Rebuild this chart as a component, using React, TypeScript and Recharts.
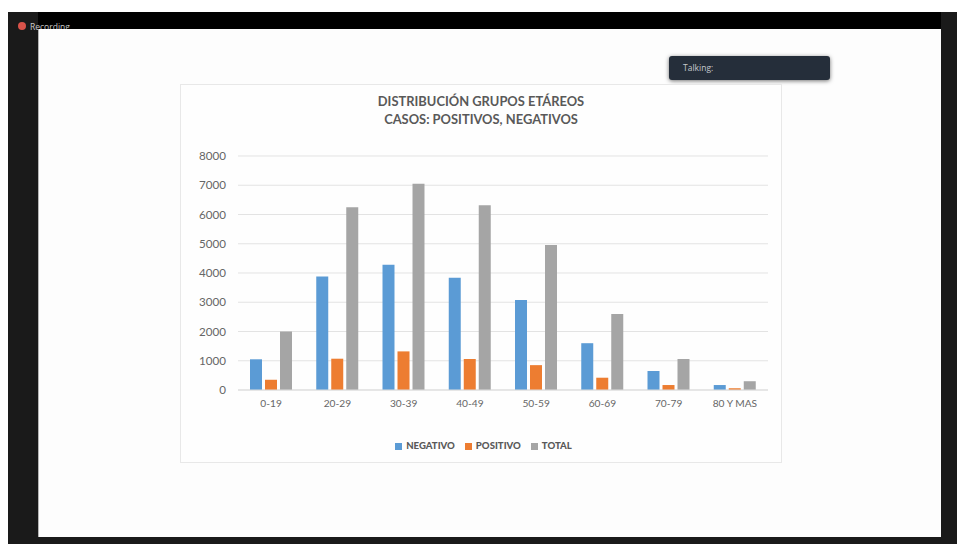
import { Bar, BarChart, CartesianGrid, Legend, XAxis, YAxis } from "recharts";

const categories = ["0-19", "20-29", "30-39", "40-49", "50-59", "60-69", "70-79", "80 Y MAS"];
const negativo = [1050, 3880, 4280, 3840, 3080, 1600, 650, 170];
const positivo = [350, 1070, 1320, 1060, 850, 420, 170, 60];
const total = [2000, 6250, 7050, 6320, 4960, 2600, 1060, 300];
const yTicks = [0, 1000, 2000, 3000, 4000, 5000, 6000, 7000, 8000];

const data = categories.map((label, i) => ({
  label,
  NEGATIVO: negativo[i],
  POSITIVO: positivo[i],
  TOTAL: total[i],
}));

const font = "Lato, 'Open Sans', sans-serif";

export default function App() {
  return (
    <div
      style={{
        position: "absolute",
        left: 0,
        top: 0,
        width: 957,
        height: 544,
        overflow: "hidden",
        background: "#fff",
        fontFamily: font,
      }}
    >
      {/* recording window frame */}
      <div style={{ position: "absolute", left: 8, top: 12, width: 949, height: 532, background: "#1a1a1a" }} />
      <div style={{ position: "absolute", left: 38, top: 12, width: 903, height: 525, background: "#000" }} />
      <div style={{ position: "absolute", left: 18, top: 22, width: 8, height: 8, borderRadius: 4, background: "#d9534a" }} />
      <div style={{ position: "absolute", left: 30, top: 20.5, fontSize: 8.5, lineHeight: "12px", color: "#c9c9c9", fontFamily: "'Open Sans', sans-serif" }}>
        Recording
      </div>
      <div
        style={{
          position: "absolute",
          left: 38,
          top: 29,
          width: 903,
          height: 508,
          background: "#fdfdfd",
          borderLeft: "1px solid #b5b5b5",
          boxSizing: "border-box",
        }}
      />
      <div
        style={{
          position: "absolute",
          left: 669,
          top: 56,
          width: 161,
          height: 24,
          borderRadius: 3,
          background: "#252e3a",
          boxShadow: "0 1px 4px rgba(0,0,0,0.55)",
          color: "#c4c8cc",
          fontSize: 8.5,
          lineHeight: "24px",
          paddingLeft: 14,
          boxSizing: "border-box",
          fontFamily: "'Open Sans', sans-serif",
        }}
      >
        Talking:
      </div>

      {/* chart card */}
      <div
        style={{
          position: "absolute",
          left: 180,
          top: 84,
          width: 602,
          height: 379,
          border: "1px solid #e8e8e8",
          boxSizing: "border-box",
          background: "#fefefe",
        }}
      >
        <div
          style={{
            position: "absolute",
            left: 0,
            right: 0,
            top: 7,
            textAlign: "center",
            fontSize: 12.9,
            lineHeight: "18px",
            fontWeight: 700,
            color: "#595959",
          }}
        >
          DISTRIBUCIÓN GRUPOS ETÁREOS
          <br />
          CASOS: POSITIVOS, NEGATIVOS
        </div>
        <div style={{ position: "absolute", left: 0, top: 0 }}>
          <BarChart
            width={600}
            height={377}
            data={data}
            margin={{ top: 71, right: 13, bottom: 12, left: 0 }}
            barCategoryGap={12}
            barGap={3}
          >
            <CartesianGrid vertical={false} stroke="#e3e3e3" />
            <XAxis
              dataKey="label"
              tickLine={false}
              axisLine={{ stroke: "#dcdcdc" }}
              height={30}
              tickMargin={4}
              interval={0}
              tick={{ fontSize: 10.2, fill: "#666666", fontFamily: font }}
            />
            <YAxis
              width={57}
              domain={[0, 8000]}
              ticks={yTicks}
              tickLine={false}
              axisLine={false}
              tickMargin={6}
              tick={{ fontSize: 11.6, fill: "#666666", fontFamily: font }}
            />
            <Legend
              height={30}
              iconType="square"
              iconSize={7}
              wrapperStyle={{ fontSize: 9.6, fontWeight: 900, fontFamily: font, bottom: -8, left: 14 }}
              formatter={(value) => <span style={{ color: "#595959" }}>{value}</span>}
            />
            <Bar dataKey="NEGATIVO" fill="#5b9bd5" isAnimationActive={false} />
            <Bar dataKey="POSITIVO" fill="#ed7d31" isAnimationActive={false} />
            <Bar dataKey="TOTAL" fill="#a5a5a5" isAnimationActive={false} />
          </BarChart>
        </div>
      </div>
    </div>
  );
}
